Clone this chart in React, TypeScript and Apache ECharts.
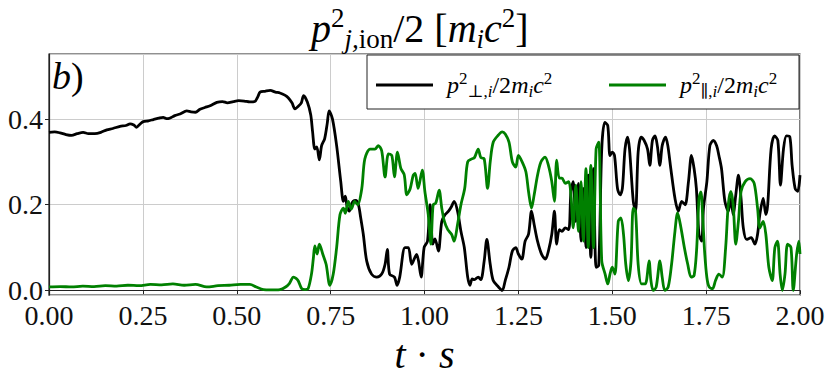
import React, { useEffect, useRef } from "react";
import * as echarts from "echarts";

const SERIF = "Liberation Serif, DejaVu Serif, serif";

// x-axis range and ticks
const X_MIN = 0;
const X_MAX = 2;
const X_STEP = 0.25;
// y-axis range (the frame extends slightly below 0 and above 0.5)
const Y_MIN = -0.011;
const Y_MAX = 0.552;

// p_perp^2 / 2 m_i c^2 (black)
const timePerp = [
  0.0, 0.015, 0.029, 0.045, 0.06, 0.075, 0.091, 0.105, 0.122, 0.138, 0.154, 0.17, 0.189, 0.205, 0.216, 0.226,
  0.233, 0.242, 0.251, 0.265, 0.278, 0.292, 0.304, 0.313, 0.321, 0.335, 0.349, 0.367, 0.378, 0.39, 0.402, 0.415,
  0.429, 0.447, 0.462, 0.475, 0.491, 0.505, 0.52, 0.535, 0.548, 0.556, 0.562, 0.575, 0.589, 0.603, 0.615, 0.628,
  0.637, 0.647, 0.655, 0.664, 0.672, 0.678, 0.688, 0.697, 0.702, 0.708, 0.713, 0.72, 0.726, 0.734, 0.741, 0.746,
  0.755, 0.766, 0.777, 0.784, 0.789, 0.794, 0.8, 0.805, 0.81, 0.817, 0.824, 0.83, 0.837, 0.846, 0.859, 0.873,
  0.886, 0.895, 0.901, 0.907, 0.92, 0.927, 0.934, 0.948, 0.957, 0.966, 0.979, 0.984, 0.991, 0.999, 1.008, 1.015,
  1.022, 1.028, 1.037, 1.046, 1.055, 1.064, 1.072, 1.079, 1.088, 1.097, 1.106, 1.115, 1.121, 1.127, 1.133, 1.143,
  1.15, 1.159, 1.166, 1.175, 1.183, 1.197, 1.207, 1.215, 1.225, 1.234, 1.243, 1.25, 1.259, 1.268, 1.277, 1.285,
  1.292, 1.301, 1.312, 1.322, 1.33, 1.339, 1.346, 1.352, 1.359, 1.366, 1.375, 1.384, 1.39, 1.396, 1.403, 1.41,
  1.417, 1.423, 1.43, 1.436, 1.443, 1.45, 1.457, 1.464, 1.472, 1.48, 1.488, 1.494, 1.5, 1.506, 1.514, 1.521,
  1.527, 1.534, 1.541, 1.546, 1.556, 1.562, 1.569, 1.577, 1.585, 1.594, 1.6, 1.607, 1.614, 1.62, 1.627, 1.633,
  1.642, 1.648, 1.656, 1.667, 1.676, 1.685, 1.694, 1.703, 1.711, 1.718, 1.724, 1.731, 1.738, 1.743, 1.752, 1.76,
  1.769, 1.778, 1.784, 1.791, 1.8, 1.809, 1.816, 1.822, 1.829, 1.836, 1.843, 1.849, 1.858, 1.87, 1.88, 1.887,
  1.893, 1.902, 1.909, 1.914, 1.923, 1.932, 1.941, 1.948, 1.956, 1.964, 1.973, 1.979, 1.987, 1.994, 2.0,
];
const valuePerp = [
  0.369, 0.37, 0.368, 0.364, 0.362, 0.366, 0.369, 0.366, 0.366, 0.369, 0.375, 0.378, 0.383, 0.385, 0.389, 0.386,
  0.381, 0.388, 0.394, 0.396, 0.399, 0.402, 0.404, 0.401, 0.402, 0.408, 0.412, 0.419, 0.417, 0.416, 0.423, 0.427,
  0.431, 0.439, 0.441, 0.438, 0.441, 0.443, 0.442, 0.44, 0.441, 0.452, 0.463, 0.465, 0.467, 0.463, 0.461, 0.456,
  0.45, 0.438, 0.424, 0.43, 0.438, 0.455, 0.44, 0.41, 0.37, 0.33, 0.335, 0.305, 0.338, 0.354, 0.39, 0.419,
  0.4, 0.338, 0.254, 0.208, 0.22, 0.195, 0.185, 0.2, 0.208, 0.21, 0.2, 0.17, 0.131, 0.069, 0.038, 0.031,
  0.038, 0.061, 0.096, 0.038, 0.031, 0.012, 0.031, 0.1, 0.1, 0.061, 0.084, 0.069, 0.031, 0.1, 0.115, 0.2,
  0.108, 0.12, 0.092, 0.161, 0.177, 0.185, 0.196, 0.208, 0.185, 0.138, 0.1, 0.031, 0.012, 0.027, 0.025, 0.031,
  0.025, 0.069, 0.119, 0.061, 0.023, 0.008, 0.0, 0.023, 0.054, 0.092, 0.1, 0.085, 0.073, 0.115, 0.131, 0.185,
  0.154, 0.115, 0.084, 0.073, 0.092, 0.131, 0.185, 0.108, 0.142, 0.138, 0.146, 0.142, 0.231, 0.254, 0.161, 0.25,
  0.115, 0.238, 0.1, 0.269, 0.077, 0.284, 0.054, 0.058, 0.33, 0.392, 0.385, 0.315, 0.323, 0.315, 0.238, 0.223,
  0.238, 0.33, 0.358, 0.33, 0.208, 0.185, 0.323, 0.358, 0.35, 0.33, 0.292, 0.35, 0.361, 0.338, 0.292, 0.338,
  0.358, 0.338, 0.284, 0.215, 0.185, 0.208, 0.2, 0.254, 0.315, 0.284, 0.238, 0.131, 0.115, 0.192, 0.254, 0.338,
  0.35, 0.338, 0.315, 0.284, 0.208, 0.185, 0.215, 0.177, 0.223, 0.269, 0.215, 0.146, 0.119, 0.123, 0.108, 0.131,
  0.177, 0.215, 0.177, 0.2, 0.33, 0.361, 0.35, 0.246, 0.33, 0.361, 0.358, 0.292, 0.238, 0.231, 0.269,
];

// p_par^2 / 2 m_i c^2 (green)
const timePar = [
  0.0, 0.03, 0.06, 0.09, 0.12, 0.15, 0.18, 0.21, 0.24, 0.27, 0.3, 0.33, 0.36, 0.39, 0.42, 0.45,
  0.48, 0.51, 0.535, 0.552, 0.571, 0.59, 0.615, 0.63, 0.64, 0.651, 0.658, 0.664, 0.673, 0.682, 0.69, 0.699,
  0.704, 0.708, 0.714, 0.72, 0.729, 0.738, 0.748, 0.757, 0.766, 0.775, 0.784, 0.789, 0.797, 0.805, 0.814, 0.822,
  0.833, 0.841, 0.855, 0.868, 0.877, 0.886, 0.895, 0.904, 0.913, 0.92, 0.928, 0.937, 0.946, 0.953, 0.962, 0.97,
  0.975, 0.983, 0.994, 1.001, 1.01, 1.017, 1.023, 1.03, 1.039, 1.046, 1.053, 1.062, 1.072, 1.079, 1.088, 1.097,
  1.107, 1.115, 1.126, 1.133, 1.143, 1.15, 1.159, 1.168, 1.175, 1.183, 1.197, 1.207, 1.215, 1.225, 1.234, 1.243,
  1.25, 1.26, 1.27, 1.277, 1.285, 1.292, 1.301, 1.31, 1.321, 1.33, 1.339, 1.346, 1.352, 1.359, 1.366, 1.375,
  1.384, 1.39, 1.396, 1.403, 1.41, 1.417, 1.423, 1.43, 1.436, 1.443, 1.45, 1.457, 1.464, 1.472, 1.481, 1.488,
  1.494, 1.5, 1.507, 1.516, 1.523, 1.53, 1.536, 1.543, 1.55, 1.556, 1.562, 1.569, 1.578, 1.588, 1.598, 1.603,
  1.609, 1.617, 1.627, 1.633, 1.64, 1.649, 1.658, 1.667, 1.674, 1.683, 1.692, 1.701, 1.71, 1.718, 1.725, 1.731,
  1.736, 1.741, 1.746, 1.752, 1.758, 1.767, 1.775, 1.784, 1.793, 1.802, 1.809, 1.816, 1.822, 1.829, 1.836, 1.843,
  1.854, 1.867, 1.878, 1.887, 1.893, 1.902, 1.909, 1.917, 1.926, 1.933, 1.94, 1.947, 1.953, 1.96, 1.967, 1.976,
  1.982, 1.991, 1.997, 2.0,
];
const valuePar = [
  0.008, 0.009, 0.008, 0.01, 0.009, 0.011, 0.01, 0.012, 0.011, 0.014, 0.013, 0.015, 0.012, 0.014, 0.008, 0.011,
  0.012, 0.014, 0.014, 0.008, 0.002, 0.001, 0.002, 0.008, 0.016, 0.031, 0.028, 0.022, 0.004, 0.002, 0.004, 0.038,
  0.075, 0.104, 0.085, 0.108, 0.085, 0.061, 0.012, 0.038, 0.1, 0.177, 0.192, 0.18, 0.208, 0.19, 0.208, 0.2,
  0.238, 0.307, 0.33, 0.33, 0.338, 0.326, 0.265, 0.319, 0.315, 0.265, 0.323, 0.285, 0.27, 0.223, 0.238, 0.269,
  0.273, 0.238, 0.281, 0.231, 0.177, 0.108, 0.2, 0.204, 0.234, 0.192, 0.161, 0.142, 0.131, 0.115, 0.154, 0.2,
  0.238, 0.3, 0.307, 0.31, 0.33, 0.31, 0.307, 0.238, 0.3, 0.346, 0.363, 0.37, 0.365, 0.346, 0.3, 0.288,
  0.315, 0.3, 0.277, 0.231, 0.192, 0.223, 0.269, 0.3, 0.311, 0.292, 0.254, 0.208, 0.304, 0.262, 0.262, 0.25,
  0.254, 0.223, 0.146, 0.246, 0.138, 0.254, 0.115, 0.284, 0.1, 0.292, 0.1, 0.33, 0.346, 0.069, 0.038, 0.015,
  0.038, 0.054, 0.038, 0.161, 0.169, 0.131, 0.061, 0.023, 0.069, 0.192, 0.185, 0.061, 0.015, 0.015, 0.069, 0.023,
  0.0, 0.008, 0.069, 0.031, 0.0, 0.008, 0.061, 0.138, 0.181, 0.146, 0.1, 0.061, 0.031, 0.035, 0.1, 0.215,
  0.23, 0.17, 0.09, 0.03, 0.008, 0.004, 0.023, 0.038, 0.031, 0.1, 0.2, 0.231, 0.2, 0.108, 0.161, 0.231,
  0.254, 0.261, 0.25, 0.192, 0.146, 0.161, 0.131, 0.054, 0.023, 0.1, 0.115, 0.038, 0.0, 0.038, 0.108, 0.1,
  0.0, 0.084, 0.115, 0.085,
];

const PERP = "perp";
const PAR = "par";

const zip = (t: number[], v: number[]) => t.map((x, i) => [x, v[i]]);

const mkRich = (main: number, script: number, line: number, scriptLine: number) => ({
  i: { fontFamily: SERIF, fontStyle: "italic", fontWeight: "normal", fontSize: main, lineHeight: line, color: "#000" },
  r: { fontFamily: SERIF, fontWeight: "normal", fontSize: main, lineHeight: line, color: "#000" },
  sup: { fontFamily: SERIF, fontWeight: "normal", fontSize: script, lineHeight: scriptLine, verticalAlign: "top", color: "#000" },
  sub: { fontFamily: SERIF, fontStyle: "italic", fontWeight: "normal", fontSize: script, lineHeight: scriptLine, verticalAlign: "bottom", color: "#000" },
  subr: { fontFamily: SERIF, fontWeight: "normal", fontSize: script, lineHeight: scriptLine, verticalAlign: "bottom", color: "#000" },
  g: { width: 9, fontSize: 10, lineHeight: 10 },
});

const legendRich: any = mkRich(24, 17, 30, 17);
const titleRich: any = mkRich(40, 27, 48, 26);
const tickRich: any = {
  n: { fontFamily: SERIF, fontWeight: "normal", fontSize: 28, lineHeight: 24, color: "#111" },
};

export default function App() {
  const ref = useRef<HTMLDivElement>(null);
  useEffect(() => {
    if (!ref.current) return;
    const chart = echarts.init(ref.current, null, { renderer: "svg" });
    const legendBase = {
      top: 70,
      padding: 0,
      itemWidth: 57,
      itemHeight: 3,
      icon: "rect",
      z: 12,
      selectedMode: false,
      textStyle: { fontFamily: SERIF, rich: legendRich },
    };
    chart.setOption({
      animation: false,
      backgroundColor: "#fff",
      textStyle: { fontFamily: SERIF, fontWeight: "normal" },
      title: {
        text: "{i|p}{sup|2}{sub|j,}{subr|ion}{r|/2 [}{i|m}{sub|i}{i|c}{sup|2}{r|]}",
        left: 311,
        top: 4,
        padding: 0,
        textStyle: { fontFamily: SERIF, fontWeight: "normal", rich: titleRich },
      },
      grid: {
        left: 49,
        right: 30,
        top: 54,
        bottom: 81,
        show: true,
        borderColor: "#222",
        borderWidth: 1.2,
        backgroundColor: "transparent",
      },
      xAxis: {
        type: "value",
        min: X_MIN,
        max: X_MAX,
        interval: X_STEP,
        name: "{i|t}{r| · }{i|s}",
        nameLocation: "middle",
        nameGap: 30,
        nameTextStyle: {
          fontFamily: SERIF,
          rich: {
            i: { fontFamily: SERIF, fontStyle: "italic", fontSize: 40, lineHeight: 44, color: "#000" },
            r: { fontFamily: SERIF, fontSize: 40, lineHeight: 44, color: "#000" },
          },
        },
        axisLine: { show: true, lineStyle: { color: "#222", width: 1.2 } },
        axisTick: { show: true, length: 4, lineStyle: { color: "#222", width: 1 } },
        axisLabel: {
          formatter: (v: number) => `{n|${v.toFixed(2)}}`,
          rich: tickRich,
          fontFamily: SERIF,
          fontSize: 28,
          color: "#111",
          margin: 8,
        },
        splitLine: { show: true, lineStyle: { color: "#cccccc", width: 1 } },
      },
      yAxis: {
        type: "value",
        min: Y_MIN,
        max: Y_MAX,
        splitNumber: 3,
        axisLine: { show: true, lineStyle: { color: "#222", width: 1.2 } },
        axisTick: { show: true, length: 4, lineStyle: { color: "#222", width: 1 } },
        axisLabel: {
          formatter: (v: number) => `{n|${v.toFixed(1)}}`,
          rich: tickRich,
          showMinLabel: false,
          showMaxLabel: false,
          fontFamily: SERIF,
          fontSize: 28,
          color: "#111",
          margin: 6,
        },
        splitLine: { show: true, lineStyle: { color: "#cccccc", width: 1 } },
      },
      legend: [
        {
          ...legendBase,
          left: 376,
          data: [PERP],
          formatter: () => "{g| }{i|p}{sup|2}{subr|⊥,}{sub|i}{r|/2}{i|m}{sub|i}{i|c}{sup|2}",
        },
        {
          ...legendBase,
          left: 609,
          data: [PAR],
          formatter: () => "{g| }{i|p}{sup|2}{subr|∥,}{sub|i}{r|/2}{i|m}{sub|i}{i|c}{sup|2}",
        },
      ],
      graphic: [
        {
          type: "rect",
          z: 10,
          shape: { x: 367, y: 55, width: 432, height: 54 },
          style: { fill: "#fff", stroke: "#222", lineWidth: 1 },
        },
        {
          type: "text",
          z: 11,
          x: 52,
          y: 55,
          style: {
            text: "{i|b}{r|)}",
            rich: {
              i: { fontFamily: SERIF, fontStyle: "italic", fontSize: 38, lineHeight: 42, fill: "#000" },
              r: { fontFamily: SERIF, fontSize: 38, lineHeight: 42, fill: "#000" },
            },
          },
        },
      ],
      series: [
        {
          name: PERP,
          type: "line",
          data: zip(timePerp, valuePerp),
          showSymbol: false,
          smooth: 0.3,
          lineStyle: { color: "#000", width: 2.8 },
          itemStyle: { color: "#000" },
        },
        {
          name: PAR,
          type: "line",
          data: zip(timePar, valuePar),
          showSymbol: false,
          smooth: 0.3,
          lineStyle: { color: "#008000", width: 2.8 },
          itemStyle: { color: "#008000" },
        },
      ],
    });
    return () => chart.dispose();
  }, []);
  return (
    <div
      ref={ref}
      style={{ position: "absolute", left: 0, top: 0, width: 830, height: 379 }}
    />
  );
}
